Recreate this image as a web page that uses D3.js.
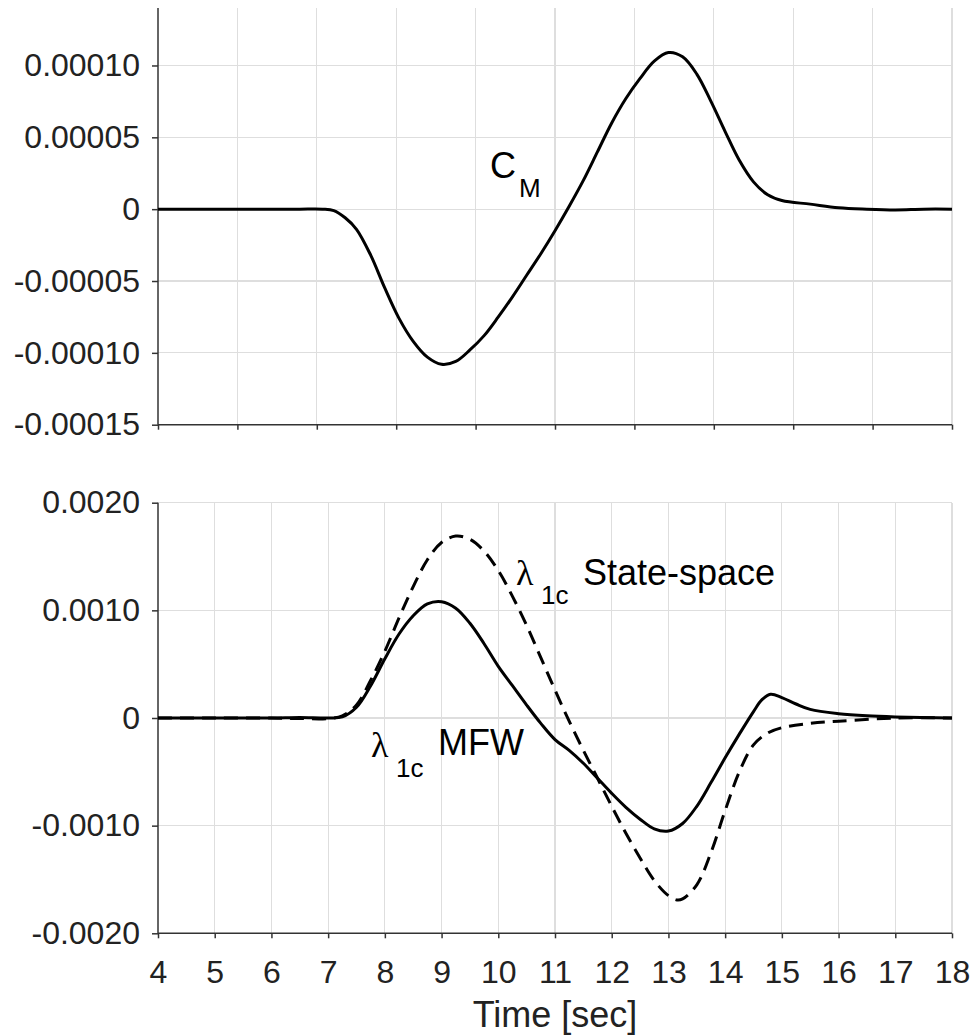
<!DOCTYPE html>
<html><head><meta charset="utf-8">
<script src="https://cdn.jsdelivr.net/npm/d3@7"></script>
<style>body{margin:0;background:#fff}svg{display:block}</style>
</head><body><svg id="c" width="974" height="1036"></svg>
<script>
// ---- data ----
const cmTime = [4,4.5,5,5.5,6,6.5,6.9,7.1,7.3,7.5,7.75,8,8.25,8.5,8.75,9,9.25,9.5,9.75,10,10.25,10.5,10.75,11,11.25,11.5,11.75,12,12.25,12.5,12.75,13,13.25,13.5,13.75,14,14.25,14.5,14.75,15,15.5,16,16.5,17,17.5,18];
const cmValues = [0,0,0,0,0,0,0,-0.1,-0.6,-1.4,-3.2,-5.5,-7.6,-9.2,-10.3,-10.8,-10.6,-9.8,-8.8,-7.5,-6.1,-4.6,-3.1,-1.5,0.2,2.0,4.0,6.0,7.7,9.1,10.3,10.9,10.6,9.4,7.5,5.4,3.4,1.9,1.0,0.6,0.35,0.1,0,-0.05,0,0].map(v=>v*1e-5);

const mfwTime = [4,5,6,6.5,7,7.25,7.5,7.75,8,8.25,8.5,8.75,9,9.25,9.5,9.75,10,10.25,10.5,10.75,11,11.25,11.5,11.75,12,12.25,12.5,12.75,13,13.25,13.5,13.75,14,14.25,14.5,14.65,14.8,15,15.25,15.5,16,16.5,17,18];
const mfwValues = [0,0,0,0.005,0,0.01,0.1,0.3,0.55,0.78,0.95,1.06,1.08,1.02,0.88,0.69,0.48,0.3,0.12,-0.05,-0.2,-0.3,-0.42,-0.56,-0.7,-0.83,-0.94,-1.03,-1.05,-0.98,-0.82,-0.6,-0.37,-0.15,0.06,0.17,0.22,0.19,0.13,0.08,0.04,0.02,0.01,0].map(v=>v*1e-3);

const ssTime = [4,5,6,6.5,7,7.25,7.5,7.75,8,8.25,8.5,8.75,9,9.25,9.5,9.75,10,10.25,10.5,10.75,11,11.25,11.5,11.75,12,12.25,12.5,12.75,13,13.15,13.25,13.5,13.75,14,14.25,14.5,14.75,15,15.5,16,17,18];
const ssValues = [0,0,0,-0.005,-0.005,0.02,0.12,0.35,0.62,0.93,1.22,1.47,1.63,1.69,1.66,1.55,1.37,1.13,0.86,0.56,0.26,-0.03,-0.3,-0.56,-0.82,-1.07,-1.3,-1.51,-1.65,-1.69,-1.68,-1.55,-1.25,-0.86,-0.5,-0.25,-0.14,-0.09,-0.05,-0.03,0,0].map(v=>v*1e-3);

const topYTicks = [0.0001,0.00005,0,-0.00005,-0.0001,-0.00015];
const topYLabels = ["0.00010","0.00005","0","-0.00005","-0.00010","-0.00015"];
const topXTicks = [4,5.4,6.8,8.2,9.6,11,12.4,13.8,15.2,16.6,18];
const botYTicks = [0.002,0.001,0,-0.001,-0.002];
const botYLabels = ["0.0020","0.0010","0","-0.0010","-0.0020"];
const botXTicks = [4,5,6,7,8,9,10,11,12,13,14,15,16,17,18];

// ---- drawing ----
const svg = d3.select("#c");
const L = 158, R = 952;
const font = "'Liberation Sans', Arial, sans-serif";
const gridC = "#dedede", axisC = "#333";

const x = d3.scaleLinear().domain([4,18]).range([L,R]);
const yTop = d3.scaleLinear().domain([-0.00015,0.00014]).range([424.7,8]);
const yBot = d3.scaleLinear().domain([-0.002,0.002]).range([933.3,502.7]);

function panel(y, yTicks, yLabels, xTicks, showXLabels, top, bottom){
  const g = svg.append("g");
  g.selectAll(".vg").data(xTicks.slice(1)).join("line")
    .attr("x1",d=>x(d)).attr("x2",d=>x(d)).attr("y1",top).attr("y2",bottom)
    .attr("stroke",gridC).attr("stroke-width",1.2).attr("shape-rendering","crispEdges");
  g.selectAll(".hg").data(yTicks.slice(0,-1)).join("line")
    .attr("x1",L).attr("x2",R).attr("y1",d=>y(d)).attr("y2",d=>y(d))
    .attr("stroke",gridC).attr("stroke-width",1.2).attr("shape-rendering","crispEdges");
  const ya = d3.axisLeft(y).tickValues(yTicks).tickFormat((d,i)=>yLabels[i]).tickSize(6).tickPadding(12);
  const yg = g.append("g").attr("transform",`translate(${L},0)`).call(ya);
  yg.select(".domain").attr("d",`M0,${top}V${bottom}`);
  const xa = d3.axisBottom(x).tickValues(xTicks).tickSize(5).tickPadding(22)
    .tickFormat(showXLabels ? d3.format("d") : ()=> "");
  const xg = g.append("g").attr("transform",`translate(0,${bottom})`).call(xa);
  xg.select(".domain").attr("d",`M${L},0H${R}`);
  [yg,xg].forEach(a=>{
    a.selectAll(".domain").attr("stroke",axisC).attr("stroke-width",1.5);
    a.selectAll(".tick line").attr("stroke",axisC).attr("stroke-width",1.5);
    a.selectAll("text").attr("font-family",font).attr("font-size",32).attr("fill","#222");
  });
  return g;
}

panel(yTop, topYTicks, topYLabels, topXTicks, false, 8, yTop(-0.00015));
panel(yBot, botYTicks, botYLabels, botXTicks, true, 502.7, 933.3);

function drawLine(xs, vs, y, dash){
  const pts = xs.map((t,i)=>[t,vs[i]]);
  svg.append("path").datum(pts)
    .attr("d", d3.line().x(d=>x(d[0])).y(d=>y(d[1])).curve(d3.curveCatmullRom.alpha(0.5)))
    .attr("fill","none").attr("stroke","#000").attr("stroke-width",3)
    .attr("stroke-dasharray", dash || null).attr("stroke-linejoin","round");
}
drawLine(cmTime, cmValues, yTop);
drawLine(ssTime, ssValues, yBot, "14,8");
drawLine(mfwTime, mfwValues, yBot);

function lab(xp, yp, txt, size, fam){
  svg.append("text").attr("x",xp).attr("y",yp).text(txt)
    .attr("font-family",fam||font).attr("font-size",size).attr("fill","#000");
}
lab(490,178,"C",36); lab(519,197,"M",26);
lab(516,585,"λ",36,"'Liberation Serif', serif"); lab(541,604,"1c",26); lab(583,585,"State-space",36);
lab(371,757,"λ",36,"'Liberation Serif', serif"); lab(396,777,"1c",26); lab(438,755,"MFW",36);

svg.append("text").attr("x",(L+R)/2).attr("y",1027).attr("text-anchor","middle")
  .attr("font-family",font).attr("font-size",36).attr("fill","#222").text("Time [sec]");
</script></body></html>
